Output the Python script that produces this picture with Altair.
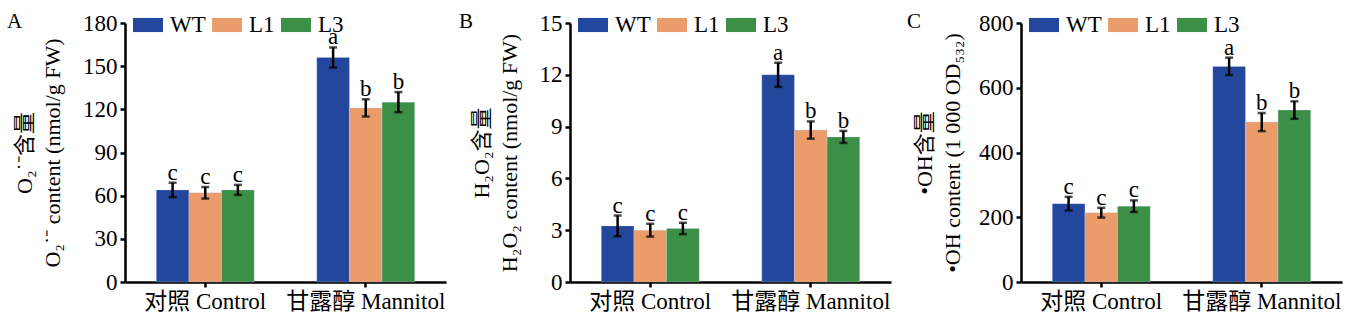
import altair as alt
import pandas as pd

SERIF = "Liberation Serif, Noto Sans CJK SC, serif"

groups = ["对照 Control", "甘露醇 Mannitol"]
lines = ["WT", "L1", "L3"]
colors = ["#23479c", "#ea9c6b", "#3c8f47"]

# Panel A: O2- content
a_vals = [64, 62, 64, 156, 121, 125]
a_err = [5, 4, 3.5, 7, 6, 7]
a_sig = ["c", "c", "c", "a", "b", "b"]
a_ticks = [0, 30, 60, 90, 120, 150, 180]
a_title = ["O\u2082\u02D9\u207B含量", "O\u2082\u02D9\u207B content (nmol/g FW)"]

# Panel B: H2O2 content
b_vals = [3.25, 3.0, 3.1, 12.0, 8.8, 8.4]
b_err = [0.6, 0.37, 0.33, 0.7, 0.5, 0.35]
b_sig = ["c", "c", "c", "a", "b", "b"]
b_ticks = [0, 3, 6, 9, 12, 15]
b_title = ["H\u2082O\u2082含量", "H\u2082O\u2082 content (nmol/g FW)"]

# Panel C: OH content
c_vals = [242, 214, 234, 666, 494, 531]
c_err = [21, 15, 18, 27, 28, 27]
c_sig = ["c", "c", "c", "a", "b", "b"]
c_ticks = [0, 200, 400, 600, 800]
c_title = ["\u2022OH含量", "\u2022OH content (1 000 OD\u2085\u2083\u2082)"]


def panel(label, label_dx, vals, errs, sig, ticks, title, tpad):
    df = pd.DataFrame({
        "group": [g for g in groups for _ in lines],
        "line": lines * 2,
        "value": vals,
        "err": errs,
        "sig": sig,
    })
    df["lo"] = df["value"] - df["err"]
    df["hi"] = df["value"] + df["err"]

    yscale = alt.Scale(domain=[ticks[0], ticks[-1]], nice=False, zero=True)
    yaxis = alt.Axis(values=ticks, title=title, titlePadding=tpad)

    def Y(field):
        return alt.Y(field, type="quantitative", scale=yscale, axis=yaxis)

    base = alt.Chart(df).encode(
        x=alt.X("group:N", sort=groups, title=None,
                scale=alt.Scale(paddingInner=0.39, paddingOuter=0.195),
                axis=alt.Axis(labelAngle=0, ticks=True)),
        xOffset=alt.XOffset("line:N", sort=lines,
                            scale=alt.Scale(paddingInner=0, paddingOuter=0)),
    )
    bars = base.mark_bar(stroke="#c9d4ea", strokeWidth=0.5, strokeOpacity=0.6).encode(
        y=Y("value"),
        color=alt.Color("line:N", sort=lines,
                        scale=alt.Scale(domain=lines, range=colors),
                        legend=alt.Legend(title=None, orient="none", direction="horizontal",
                                          legendX=8, legendY=-13)),
    )
    stems = base.mark_rule(color="black", strokeWidth=2.5).encode(y=Y("lo"), y2="hi:Q")
    cap_lo = base.mark_tick(color="black", thickness=2.5, size=8).encode(y=Y("lo"))
    cap_hi = base.mark_tick(color="black", thickness=2.5, size=8).encode(y=Y("hi"))
    txt = base.mark_text(baseline="alphabetic", dy=-3, fontSize=23, font=SERIF,
                         color="black").encode(y=Y("hi"), text="sig:N")
    lab = alt.Chart(pd.DataFrame({"t": [label]})).mark_text(
        align="left", baseline="top", fontSize=21, font=SERIF, color="black"
    ).encode(x=alt.value(label_dx), y=alt.value(-12), text="t:N")
    return alt.layer(bars, stems, cap_lo, cap_hi, txt, lab).properties(width=321, height=259)


pa = panel("A", -118, a_vals, a_err, a_sig, a_ticks, a_title, 18)
pb = panel("B", -111, b_vals, b_err, b_sig, b_ticks, b_title, 18)
pc = panel("C", -114, c_vals, c_err, c_sig, c_ticks, c_title, 14)

chart = alt.hconcat(
    alt.hconcat(pa, pb, spacing=13).resolve_scale(y="independent", color="independent").resolve_legend(color="independent"),
    pc, spacing=16,
).resolve_scale(y="independent", color="independent").resolve_legend(color="independent").properties(
    padding={"left": 7, "top": 10, "right": 2, "bottom": 2}
).configure_view(stroke=None).configure_axis(
    domainColor="black", domainWidth=2.5, tickColor="black", tickWidth=2.5, tickSize=5,
    labelFont=SERIF, labelFontSize=23, labelColor="black", labelPadding=3,
    titleFont=SERIF, titleFontSize=22, titleFontWeight="normal", titleColor="black",
    titleLineHeight=28, grid=False,
).configure_legend(
    labelFont=SERIF, labelFontSize=23, labelColor="black",
    symbolType="M-1,-0.47H1V0.47H-1Z", symbolSize=900, symbolStrokeWidth=0,
    symbolOpacity=1, labelOffset=7, columnPadding=6,
)

chart.save("out.html", embed_options={"renderer": "svg", "actions": False})
